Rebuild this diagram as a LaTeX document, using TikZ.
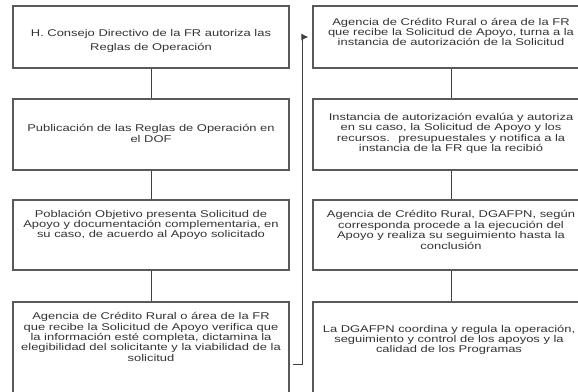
\documentclass[tikz,border=0pt]{standalone}
\usepackage{fontspec}
\setmainfont{Liberation Sans}
\newfontfamily\cajafont[FakeStretch=1.32]{Liberation Sans}
\usetikzlibrary{positioning,arrows.meta}

\begin{document}
\begin{tikzpicture}[x=1pt,y=-1pt,
    caja/.style={draw=black!65, line width=1.3pt, minimum width=276pt, inner sep=0pt},
    texto/.style={align=center, inner sep=0pt, text=black!80,
      font=\cajafont\fontsize{9.8pt}{10.4pt}\selectfont},
    enlace/.style={draw=black!75, line width=1pt},
    flecha/.style={draw=black!75, line width=1pt, -{Latex[length=7pt,width=7pt]}}]
  \useasboundingbox (0,0) rectangle (578,391);
  \clip (0,0) rectangle (578,391);
  % consejo:
  %   autorizacion de las Reglas de Operacion
  \node[caja, minimum height=62pt] (consejo) at (151,37) {};
  \node[texto] (consejoT) at ([yshift=-4pt]consejo.center)
    {H. Consejo Directivo de la FR autoriza las\\[3pt]Reglas de Operación};
  % publica:
  %   publicacion en el DOF
  \node[caja, minimum height=71pt] (publica) at (151,134.5) {};
  \node[texto] (publicaT) at ([yshift=1pt]publica.center)
    {Publicación de las Reglas de Operación en\\el DOF};
  % presenta:
  %   la Poblacion Objetivo entrega la Solicitud
  \node[caja, minimum height=70pt] (presenta) at (151,235) {};
  \node[texto] (presentaT) at ([yshift=10pt]presenta.center)
    {Población Objetivo presenta Solicitud de\\Apoyo y documentación complementaria, en\\su caso, de acuerdo al Apoyo solicitado};
  % verifica:
  %   revision y dictamen de la Solicitud
  \node[caja, minimum height=120pt] (verifica) at (151,362) {};
  \node[texto] (verificaT) at (151,337)
    {Agencia de Crédito Rural o área de la FR\\que recibe la Solicitud de Apoyo verifica que\\la información esté completa, dictamina la\\elegibilidad del solicitante y la viabilidad de la\\solicitud};
  % turna:
  %   envio a la instancia de autorizacion
  \node[caja, minimum height=62pt] (turna) at (451,37) {};
  \node[texto] (turnaT) at ([yshift=5pt]turna.center)
    {Agencia de Crédito Rural o área de la FR\\que recibe la Solicitud de Apoyo, turna a la\\instancia de autorización de la Solicitud};
  % evalua:
  %   autorizacion de la Solicitud y los recursos
  \node[caja, minimum height=71pt] (evalua) at (451,134.5) {};
  \node[texto] (evaluaT) at ([yshift=1pt]evalua.center)
    {Instancia de autorización evalúa y autoriza\\en su caso, la Solicitud de Apoyo y los\\recursos.~ presupuestales y notifica a la\\instancia de la FR que la recibió};
  % ejecuta:
  %   ejecucion y seguimiento del Apoyo
  \node[caja, minimum height=70pt] (ejecuta) at (451,235) {};
  \node[texto] (ejecutaT) at ([yshift=5pt]ejecuta.center)
    {Agencia de Crédito Rural, DGAFPN, según\\corresponda procede a la ejecución del\\Apoyo y realiza su seguimiento hasta la\\conclusión};
  % coordina:
  %   control de los Programas
  \node[caja, minimum height=120pt] (coordina) at (451,362) {};
  \node[texto] (coordinaT) at (449,340)
    {La DGAFPN coordina y regula la operación,\\seguimiento y control de los apoyos y la\\calidad de los Programas};
  % enlaces
  \draw[enlace] (consejo) -- (publica);
  \draw[enlace] (publica) -- (presenta);
  \draw[enlace] (presenta) -- (verifica);
  \draw[enlace] (turna) -- (evalua);
  \draw[enlace] (evalua) -- (ejecuta);
  \draw[enlace] (ejecuta) -- (coordina);
  \coordinate (codo) at (302,364);
  \draw[flecha, shorten <=3pt, shorten >=4pt] (verifica.east |- codo) -- (codo) |- (turna.west);
\end{tikzpicture}
\end{document}
